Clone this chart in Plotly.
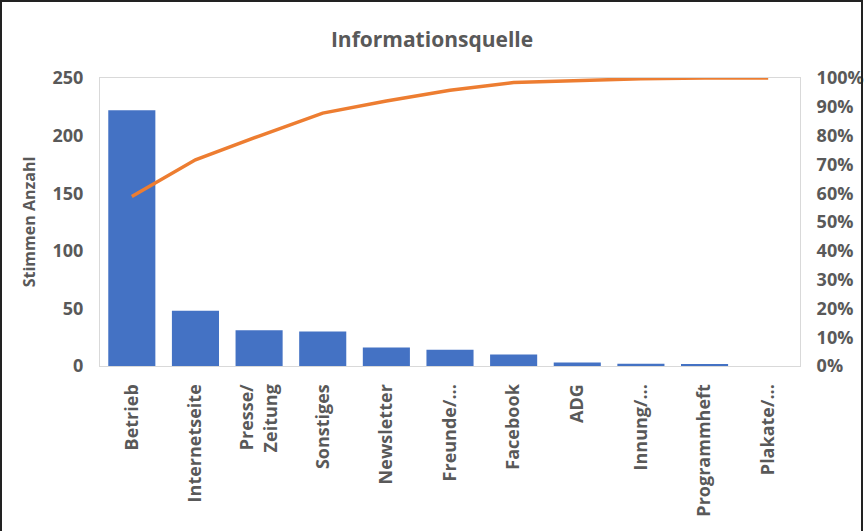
import plotly.graph_objects as go

categories = ["Betrieb", "Internetseite", "Presse/<br>Zeitung", "Sonstiges", "Newsletter",
              "Freunde/...", "Facebook", "ADG", "Innung/...", "Programmheft", "Plakate/..."]
votes = [222, 48, 31, 30, 16, 14, 10, 3, 2, 1, 0]

total = sum(votes)
cumulative = []
running = 0
for v in votes:
    running += v
    cumulative.append(running / total)

W, H = 864, 531
ML, MR, MT, MB = 100, 64, 78, 165
PW, PH = W - ML - MR, H - MT - MB

def px_to_paper_x(px):
    return (px - ML) / PW

def px_to_paper_y(py):
    return 1 - (py - MT) / PH

gray = "#595959"
box = "#d9d9d9"
clear = "rgba(0,0,0,0)"
font_family = "Open Sans, Liberation Sans, sans-serif"

fig = go.Figure()
fig.add_trace(go.Bar(x=categories, y=votes, marker_color="#4472C4", width=0.74,
                     name="Stimmen Anzahl"))
fig.add_trace(go.Scatter(x=categories, y=cumulative, yaxis="y2", mode="lines",
                         line=dict(color="#ED7D31", width=3.5), name="Kumuliert"))

fig.update_layout(
    template="none",
    width=W, height=H,
    margin=dict(l=ML, r=MR, t=MT, b=MB, autoexpand=False),
    paper_bgcolor="white", plot_bgcolor="white",
    showlegend=False,
    title=dict(text="<b>Informationsquelle</b>", x=0.5, xanchor="center",
               y=1 - 40 / H, yanchor="middle",
               font=dict(family=font_family, size=21, color=gray)),
    xaxis=dict(tickangle=-90, automargin=False,
               tickfont=dict(family=font_family, size=18, color=gray, weight="bold"),
               showline=True, linecolor=box, linewidth=1, mirror=True, showgrid=False,
               ticks="outside", ticklen=10, tickcolor=clear),
    yaxis=dict(range=[0, 250], dtick=50, showgrid=False, zeroline=False, automargin=False,
               tickfont=dict(family=font_family, size=18, color=gray, weight="bold"),
               ticks="outside", ticklen=12, tickcolor=clear,
               title=dict(text="Stimmen Anzahl", standoff=12,
                          font=dict(family=font_family, size=16, color=gray, weight="bold")),
               showline=True, linecolor=box, linewidth=1, mirror=True),
    yaxis2=dict(range=[0, 1], dtick=0.1, tickformat=".0%", overlaying="y", side="right",
                showgrid=False, zeroline=False, automargin=False,
                ticks="outside", ticklen=12, tickcolor=clear,
                tickfont=dict(family=font_family, size=18, color=gray, weight="bold")),
    shapes=[dict(type="rect", xref="paper", yref="paper",
                 x0=px_to_paper_x(1), x1=px_to_paper_x(862),
                 y0=px_to_paper_y(540), y1=px_to_paper_y(1),
                 line=dict(color="#222222", width=2), fillcolor=clear, layer="above")],
)

fig.write_html("out.html")
